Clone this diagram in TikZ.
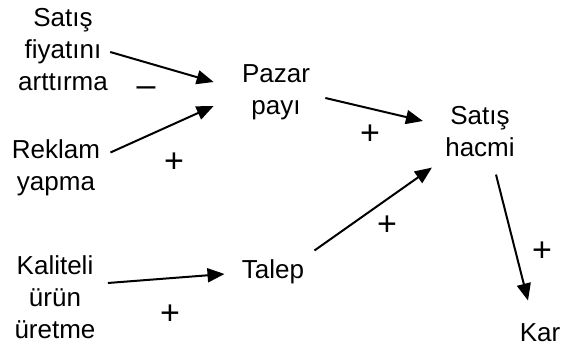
\documentclass[tikz,border=0pt]{standalone}
\usepackage{fontspec}
\setmainfont{Liberation Sans}
\usetikzlibrary{arrows.meta}
\tikzset{
  factor/.style={align=center, inner sep=0pt, font=\fontsize{13}{16}\selectfont},
  sign/.style={inner sep=0pt, font=\fontsize{17}{20}\selectfont},
  link/.style={line width=1pt, -{Triangle[length=8.5pt,width=7pt]}}
}
\begin{document}
\begin{tikzpicture}[x=0.5pt,y=-0.5pt]
                \useasboundingbox (0,0) rectangle (564,347);
                % factors
                \node[factor] (fiyat) at (63,50) {Satış\\fiyatını\\arttırma};
                \node[factor] (reklam) at (56,168) {Reklam\\yapma};
                \node[factor] (kalite) at (55,297) {Kaliteli\\ürün\\üretme};
                \node[factor] (pazar) at (276,92) {Pazar\\payı};
                \node[factor] (talep) at (273,272) {Talep};
                \node[factor] (hacim) at (480,132) {Satış\\hacmi};
                \node[factor] (kar) at (540,333) {Kar};
                % links
                \draw[link] ([shift={(2,2)}]fiyat.east) -- ([shift={(-28,-10)}]pazar.west);
                \draw[link] ([shift={(10,13)}]reklam.north east) -- ([shift={(-28,14)}]pazar.west);
                \draw[link] ([shift={(15,6)}]pazar.east) -- ([shift={(-22,-11)}]hacim.west);
                \draw[link] ([shift={(10,-9)}]talep.north east) -- ([shift={(-13,10)}]hacim.south west);
                \draw[link] ([shift={(12,-14)}]kalite.east) -- ([shift={(-17,2)}]talep.west);
                \draw[link] ([shift={(16,17)}]hacim.south) -- ([shift={(-12,-23)}]kar.north);
                % signs
                \node[sign] (s1) at (146,92) {–};
                \node[sign] (s2) at (174,163) {+};
                \node[sign] (s3) at (370,135) {+};
                \node[sign] (s4) at (387,226) {+};
                \node[sign] (s5) at (170,315) {+};
                \node[sign] (s6) at (542,252) {+};
            \end{tikzpicture}
\end{document}
